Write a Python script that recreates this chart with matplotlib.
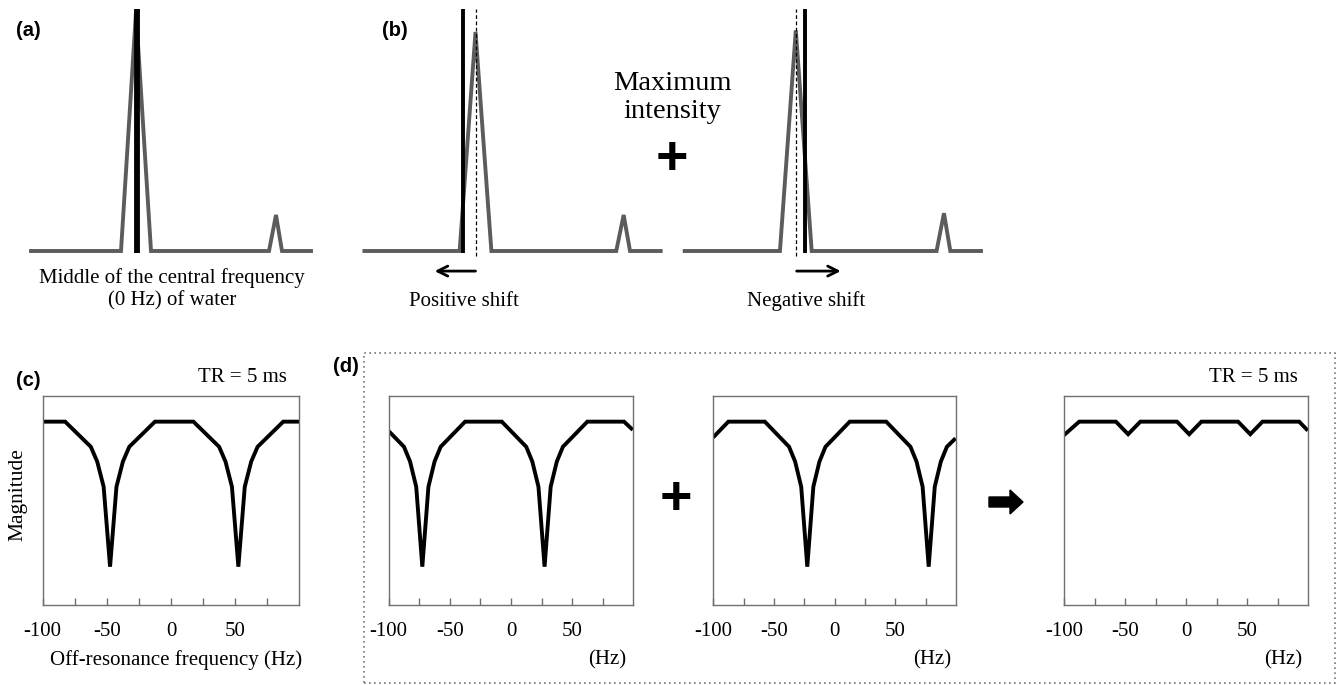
import numpy as np
import matplotlib
matplotlib.use('Agg')
import matplotlib.pyplot as plt
from matplotlib.patches import Rectangle, FancyArrow

W, H = 1339, 685

# ---- top row: schematic spectra (arbitrary frequency units, water peak at 0)
spec_x = [-105, -15, 0, 15, 133, 140, 146, 175]
spec_a_y = [0, 0, 0.988, 0, 0, 0.149, 0, 0]
spec_bl_y = [0, 0, 0.905, 0, 0, 0.149, 0, 0]
spec_br_y = [0, 0, 0.912, 0, 0, 0.156, 0, 0]
center_a = 0.5       # central frequency marker (solid line)
center_bl = -11.5
center_br = 8.8
peak_pos = 0.0       # shifted water peak (dashed line)

# ---- bottom row: bSSFP off-resonance profiles, TR = 5 ms
freq_c = [-99, -82.5, -62.5, -57.5, -52.5, -47.5, -42.5, -37.5, -32.5, -12.5,
          17.5, 37.5, 42.5, 47.5, 52.5, 57.5, 62.5, 67.5, 87.5, 98.5]
mag_c = [0.876, 0.876, 0.756, 0.685, 0.565, 0.183, 0.565, 0.685, 0.756, 0.876,
         0.876, 0.756, 0.685, 0.565, 0.183, 0.565, 0.685, 0.756, 0.876, 0.876]

freq_d1 = [-99, -87.5, -82.5, -77.5, -72.5, -67.5, -62.5, -57.5, -37.5, -7.5,
           12.5, 17.5, 22.5, 27.5, 32.5, 37.5, 42.5, 62.5, 92.5, 98.5]
mag_d1 = [0.825, 0.756, 0.685, 0.565, 0.183, 0.565, 0.685, 0.756, 0.876, 0.876,
          0.756, 0.685, 0.565, 0.183, 0.565, 0.685, 0.756, 0.876, 0.876, 0.843]

freq_d2 = [-99, -87.5, -57.5, -37.5, -32.5, -27.5, -22.5, -17.5, -12.5, -7.5,
           12.5, 42.5, 62.5, 67.5, 72.5, 77.5, 82.5, 87.5, 92.5, 98.5]
mag_d2 = [0.807, 0.876, 0.876, 0.756, 0.685, 0.565, 0.183, 0.565, 0.685, 0.756,
          0.876, 0.876, 0.756, 0.685, 0.565, 0.183, 0.565, 0.685, 0.756, 0.79]

freq_d3 = [-99, -87.5, -57.5, -47.5, -37.5, -7.5, 2.5, 12.5, 42.5, 52.5,
           62.5, 92.5, 98.5]
mag_d3 = [0.817, 0.876, 0.876, 0.816, 0.876, 0.876, 0.816, 0.876, 0.876, 0.816,
          0.876, 0.876, 0.84]

tick_pos = [-100, -75, -50, -25, 0, 25, 50, 75]
tick_lab = ['-100', '', '-50', '', '0', '', '50', '']

serif = ['Liberation Serif', 'DejaVu Serif']
sans = ['Liberation Sans', 'DejaVu Sans']
gray = '#5c5c5c'
spine_col = '#707070'


def box(x0, y0, x1, y1):
    return [x0 / W, 1 - y1 / H, (x1 - x0) / W, (y1 - y0) / H]


def ftext(x, y, s, **kw):
    kw.setdefault('ha', 'center')
    kw.setdefault('va', 'center')
    fig.text(x / W, 1 - y / H, s, **kw)


fig = plt.figure(figsize=(W / 100, H / 100), dpi=100)


def spectrum(rect, ys, center, dashed, lw_center):
    ax = fig.add_axes(rect)
    ax.plot(spec_x, ys, color=gray, lw=2.8, solid_joinstyle='miter', clip_on=False)
    ax.vlines(center, -0.008, 1.0, color='black', lw=lw_center, clip_on=False, zorder=3)
    if dashed:
        ax.vlines(peak_pos, -0.02, 1.0, color='black', lw=0.9, linestyles=(0, (3, 2)),
                  clip_on=False, zorder=4)
    ax.set_xlim(spec_x[0], spec_x[-1])
    ax.set_ylim(0, 1)
    ax.axis('off')
    return ax


ax_a = spectrum(box(31, 9, 311, 251), spec_a_y, center_a, False, 4.2)
ax_bl = spectrum(box(364.4, 9, 660.7, 251), spec_bl_y, center_bl, True, 2.8)
ax_br = spectrum(box(684.7, 9, 981, 251), spec_br_y, center_br, True, 2.8)

ax_bl.annotate('', xy=(-38.6, -0.083), xytext=(0, -0.083),
               arrowprops=dict(arrowstyle='->', lw=2, color='black', mutation_scale=18,
                               shrinkA=0, shrinkB=0), annotation_clip=False)
ax_br.annotate('', xy=(42.5, -0.083), xytext=(0.8, -0.083),
               arrowprops=dict(arrowstyle='->', lw=2, color='black', mutation_scale=18,
                               shrinkA=0, shrinkB=0), annotation_clip=False)

ftext(172, 278, 'Middle of the central frequency', family=serif, fontsize=15)
ftext(172, 301, '(0 Hz) of water', family=serif, fontsize=15)
ftext(464, 301, 'Positive shift', family=serif, fontsize=15)
ftext(806, 301, 'Negative shift', family=serif, fontsize=15)
ftext(672, 83, 'Maximum', family=serif, fontsize=20.5)
ftext(672, 112, 'intensity', family=serif, fontsize=20.5)
ftext(672, 160, '+', family=sans, fontsize=40, fontweight='bold')

ftext(16, 30, '(a)', family=sans, fontsize=14.5, fontweight='bold', ha='left')
ftext(382, 31, '(b)', family=sans, fontsize=14.5, fontweight='bold', ha='left')
ftext(16, 380, '(c)', family=sans, fontsize=14.5, fontweight='bold', ha='left')
ftext(333, 367, '(d)', family=sans, fontsize=14.5, fontweight='bold', ha='left')


def profile(rect, f, m):
    ax = fig.add_axes(rect)
    ax.plot(f, m, color='black', lw=2.8, solid_joinstyle='miter')
    ax.set_xlim(-100, 100)
    ax.set_ylim(0, 1)
    ax.set_xticks(tick_pos)
    ax.set_xticklabels(tick_lab)
    ax.set_yticks([])
    ax.tick_params(axis='x', direction='in', length=5, width=1, color=spine_col,
                   pad=12, labelsize=15)
    for lab in ax.get_xticklabels():
        lab.set_family(serif)
    for sp in ax.spines.values():
        sp.set_color(spine_col)
        sp.set_linewidth(1.0)
    return ax


ax_c = profile(box(42.7, 395.7, 299.3, 605), freq_c, mag_c)
ax_d1 = profile(box(388.7, 395.7, 633.2, 605), freq_d1, mag_d1)
ax_d2 = profile(box(713.2, 395.7, 956, 605), freq_d2, mag_d2)
ax_d3 = profile(box(1064, 395.7, 1308.3, 605), freq_d3, mag_d3)

ftext(18, 495, 'Magnitude', family=serif, fontsize=15.5, rotation=90)
ftext(176, 660, 'Off-resonance frequency (Hz)', family=serif, fontsize=15)
ftext(626, 660, '(Hz)', family=serif, fontsize=15, ha='right')
ftext(951, 660, '(Hz)', family=serif, fontsize=15, ha='right')
ftext(1302, 660, '(Hz)', family=serif, fontsize=15, ha='right')
ftext(287, 378, 'TR = 5 ms', family=serif, fontsize=15, ha='right')
ftext(1298, 378, 'TR = 5 ms', family=serif, fontsize=15, ha='right')

ftext(675.7, 500, '+', family=sans, fontsize=40, fontweight='bold')
fig.patches.append(FancyArrow(989 / W, 1 - 502 / H, 34 / W, 0, width=10 / H,
                              head_width=24 / H, head_length=13 / W,
                              length_includes_head=True, color='black',
                              transform=fig.transFigure, figure=fig))
fig.patches.append(Rectangle((364.3 / W, 1 - 682.7 / H), (1335 - 364.3) / W,
                             (682.7 - 353.3) / H, fill=False, ec='#777777', lw=1.2,
                             ls=(0, (1, 2)), transform=fig.transFigure, figure=fig))

fig.savefig('out.png', dpi=100)
